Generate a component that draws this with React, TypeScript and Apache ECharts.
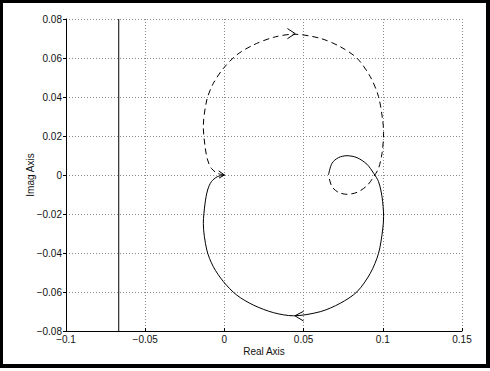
import React, { useEffect, useRef } from "react";
import * as echarts from "echarts";

// Nyquist curve, positive frequencies (solid), points [real, imag]
const solidCurve: number[][] = [
  [0.0657, 0.0], [0.0679, 0.006], [0.072, 0.0089], [0.0774, 0.0099], [0.0837, 0.0089],
  [0.09, 0.0055], [0.0942, 0.0009], [0.0973, -0.0034], [0.0995, -0.0111], [0.1005, -0.0214],
  [0.0999, -0.0282], [0.0973, -0.0402], [0.0921, -0.0504], [0.0837, -0.0599], [0.0731, -0.0658],
  [0.0605, -0.0701], [0.0436, -0.0722], [0.031, -0.0706], [0.0183, -0.0667], [0.0078, -0.0616],
  [-0.0006, -0.0547], [-0.007, -0.047], [-0.0111, -0.0385], [-0.0133, -0.0248], [-0.0122, -0.0145],
  [-0.0106, -0.0077], [-0.0082, -0.0034], [-0.0045, -0.0009], [0.0, 0.0],
];
// Negative frequencies (dashed)
const dashedCurve: number[][] = [
  [0.0, 0.0], [-0.0045, 0.0009], [-0.0082, 0.0034], [-0.0106, 0.0077], [-0.0122, 0.0145],
  [-0.0133, 0.0248], [-0.0111, 0.0385], [-0.007, 0.047], [-0.0006, 0.0547], [0.0078, 0.0616],
  [0.0183, 0.0667], [0.031, 0.0706], [0.0436, 0.0722], [0.0605, 0.0701], [0.0731, 0.0658],
  [0.0837, 0.0599], [0.0921, 0.0504], [0.0973, 0.0402], [0.0999, 0.0282], [0.1005, 0.0214],
  [0.0995, 0.0111], [0.0973, 0.0034], [0.0942, -0.0009], [0.09, -0.0055], [0.0837, -0.0089],
  [0.0774, -0.0099], [0.072, -0.0089], [0.0679, -0.006], [0.0657, 0.0],
];
// Vertical reference line
const verticalLine: number[][] = [[-0.0667, -0.08], [-0.0667, 0.08]];
// Direction arrows (arm, tip, arm)
const arrowBottom: number[][] = [[0.05, -0.0699], [0.0445, -0.0722], [0.05, -0.0749]];
const arrowTop: number[][] = [[0.0398, 0.0751], [0.0447, 0.0725], [0.0398, 0.0699]];
const arrowOrigin: number[][] = [[-0.0036, 0.0021], [0.0, 0.0], [-0.0034, -0.0016]];

const xTickLabels = ["\u22120.1", "\u22120.05", "0", "0.05", "0.1", "0.15"];
const yTickLabels = ["\u22120.08", "\u22120.06", "\u22120.04", "\u22120.02", "0", "0.02", "0.04", "0.06", "0.08"];

const FONT = "'Liberation Sans', Arial, Helvetica, sans-serif";

export default function App() {
  const ref = useRef<HTMLDivElement>(null);
  useEffect(() => {
    document.body.style.margin = "0";
    if (!ref.current) return;
    const chart = echarts.init(ref.current, undefined, { renderer: "svg" });
    const lineSeries = (data: number[][], type: any, smooth: any) => ({
      type: "line",
      data,
      showSymbol: false,
      symbol: "none",
      smooth,
      lineStyle: { color: "#000", width: 1, type },
      silent: true,
    });
    const gridLine = { show: true, lineStyle: { color: "#8a8a8a", width: 1, type: [1, 2] } };
    chart.setOption({
      animation: false,
      grid: { left: 66, right: 28, top: 19, bottom: 40 },
      xAxis: {
        type: "value",
        min: -0.1,
        max: 0.15,
        interval: 0.05,
        name: "Real Axis",
        nameLocation: "middle",
        nameGap: 15,
        nameMoveOverlap: false,
        nameTextStyle: { fontFamily: FONT, fontSize: 10, color: "#111" },
        axisLine: { show: true, onZero: false, lineStyle: { color: "#000", width: 1 } },
        axisTick: { show: true, inside: true, length: 3, lineStyle: { color: "#000" } },
        axisLabel: {
          fontFamily: FONT,
          fontSize: 10,
          color: "#111",
          margin: 3,
          showMinLabel: true,
          showMaxLabel: true,
          formatter: (_v: number, i: number) => xTickLabels[i] ?? "",
        },
        splitLine: gridLine,
      },
      yAxis: {
        type: "value",
        min: -0.08,
        max: 0.08,
        interval: 0.02,
        name: "Imag Axis",
        nameLocation: "middle",
        nameGap: 31,
        nameMoveOverlap: false,
        nameTextStyle: { fontFamily: FONT, fontSize: 10, color: "#111" },
        axisLine: { show: true, onZero: false, lineStyle: { color: "#000", width: 1 } },
        axisTick: { show: true, inside: false, length: 3, lineStyle: { color: "#000" } },
        axisLabel: {
          fontFamily: FONT,
          fontSize: 10,
          color: "#111",
          margin: 4,
          showMinLabel: true,
          showMaxLabel: true,
          formatter: (_v: number, i: number) => yTickLabels[i] ?? "",
        },
        splitLine: gridLine,
      },
      series: [
        lineSeries(verticalLine, "solid", false),
        lineSeries(solidCurve, "solid", 0.3),
        lineSeries(dashedCurve, [6, 4], 0.3),
        lineSeries(arrowBottom, "solid", false),
        lineSeries(arrowTop, "solid", false),
        lineSeries(arrowOrigin, "solid", false),
      ],
    });
    return () => chart.dispose();
  }, []);
  return (
    <div style={{ position: "relative", width: 490, height: 371, background: "#fff" }}>
      <div ref={ref} style={{ position: "absolute", left: 0, top: 0, width: 490, height: 371 }} />
      <div
        style={{
          position: "absolute",
          left: 0,
          top: 0,
          width: 490,
          height: 368,
          boxSizing: "border-box",
          borderLeft: "3px solid #000",
          borderTop: "3px solid #000",
          borderRight: "4px solid #000",
          borderBottom: "4px solid #000",
          pointerEvents: "none",
        }}
      />
    </div>
  );
}
